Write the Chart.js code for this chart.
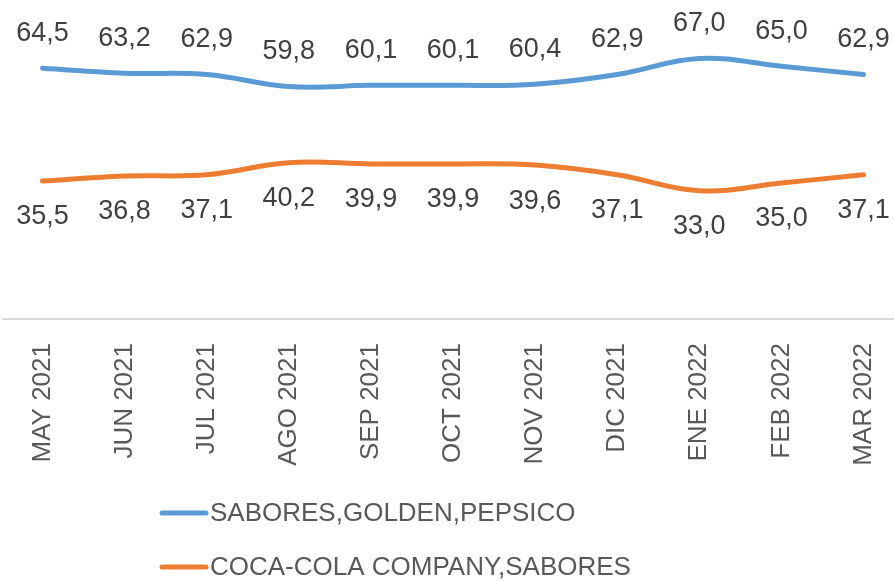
<!DOCTYPE html>
<html lang="es">
<head>
    <meta charset="UTF-8">
    <title>Sabores</title>
    <script src="https://cdn.jsdelivr.net/npm/chart.js"></script>
    <style>
        html, body { margin: 0; padding: 0; background: #fff; }
    </style>
</head>
<body>
    <canvas id="lineChart" width="894" height="581"></canvas>

    <script>
        const meses = ['MAY 2021', 'JUN 2021', 'JUL 2021', 'AGO 2021', 'SEP 2021', 'OCT 2021',
                       'NOV 2021', 'DIC 2021', 'ENE 2022', 'FEB 2022', 'MAR 2022'];
        const pepsico = [64.5, 63.2, 62.9, 59.8, 60.1, 60.1, 60.4, 62.9, 67.0, 65.0, 62.9];
        const cocaCola = [35.5, 36.8, 37.1, 40.2, 39.9, 39.9, 39.6, 37.1, 33.0, 35.0, 37.1];

        const FONT = '"Liberation Sans", Arial, sans-serif';

        // línea base del eje X a todo el ancho (como en Excel)
        const lineaBase = {
            id: 'lineaBase',
            beforeDatasetsDraw(chart) {
                const ctx = chart.ctx;
                const y = chart.scales.x.top;
                ctx.save();
                ctx.strokeStyle = '#d9d9d9';
                ctx.lineWidth = 2;
                ctx.beginPath();
                ctx.moveTo(2, y);
                ctx.lineTo(chart.width, y);
                ctx.stroke();
                ctx.restore();
            }
        };

        // etiquetas de valor: azul arriba, naranja abajo
        const etiquetas = {
            id: 'etiquetas',
            afterDatasetsDraw(chart) {
                const ctx = chart.ctx;
                ctx.save();
                ctx.font = '27px ' + FONT;
                ctx.fillStyle = '#404040';
                ctx.textAlign = 'center';
                ctx.textBaseline = 'middle';
                chart.data.datasets.forEach((ds, i) => {
                    const dy = i === 0 ? -35 : 36;
                    chart.getDatasetMeta(i).data.forEach((pt, j) => {
                        ctx.fillText(ds.data[j].toFixed(1).replace('.', ','), pt.x, pt.y + dy);
                    });
                });
                ctx.restore();
            }
        };

        // leyenda alineada a la izquierda
        const leyenda = {
            id: 'leyenda',
            afterDraw(chart) {
                const ctx = chart.ctx;
                ctx.save();
                ctx.font = '26px ' + FONT;
                ctx.textBaseline = 'middle';
                chart.data.datasets.forEach((ds, i) => {
                    const y = 513 + i * 54;
                    ctx.strokeStyle = ds.borderColor;
                    ctx.lineWidth = 5;
                    ctx.lineCap = 'round';
                    ctx.beginPath();
                    ctx.moveTo(162, y);
                    ctx.lineTo(206, y);
                    ctx.stroke();
                    ctx.fillStyle = '#595959';
                    ctx.fillText(ds.label, 210, y + 1);
                });
                ctx.restore();
            }
        };

        const chart = new Chart(document.getElementById('lineChart'), {
            type: 'line',
            data: {
                labels: meses,
                datasets: [
                    {
                        label: 'SABORES,GOLDEN,PEPSICO',
                        data: pepsico,
                        borderColor: '#5B9BD5',
                        borderWidth: 5,
                        tension: 0.4,
                        pointRadius: 0,
                        borderCapStyle: 'round',
                        fill: false
                    },
                    {
                        label: 'COCA-COLA COMPANY,SABORES',
                        data: cocaCola,
                        borderColor: '#ED7D31',
                        borderWidth: 5,
                        tension: 0.4,
                        pointRadius: 0,
                        borderCapStyle: 'round',
                        fill: false
                    }
                ]
            },
            options: {
                responsive: false,
                animation: false,
                layout: { padding: { left: 42.5, right: 30.5, top: 8, bottom: 112 } },
                plugins: { legend: { display: false }, tooltip: { enabled: false } },
                scales: {
                    y: { display: false, min: 0, max: 80 },
                    x: {
                        offset: false,
                        grid: { display: false },
                        border: { display: false },
                        ticks: {
                            color: '#595959',
                            font: { family: FONT, size: 26 },
                            minRotation: 90,
                            maxRotation: 90,
                            padding: 16,
                            autoSkip: false
                        },
                        afterFit(scale) {
                            scale.height = 150;
                            scale.paddingLeft = 0;
                            scale.paddingRight = 0;
                        }
                    }
                }
            },
            plugins: [lineaBase, etiquetas, leyenda]
        });
    </script>
</body>
</html>
